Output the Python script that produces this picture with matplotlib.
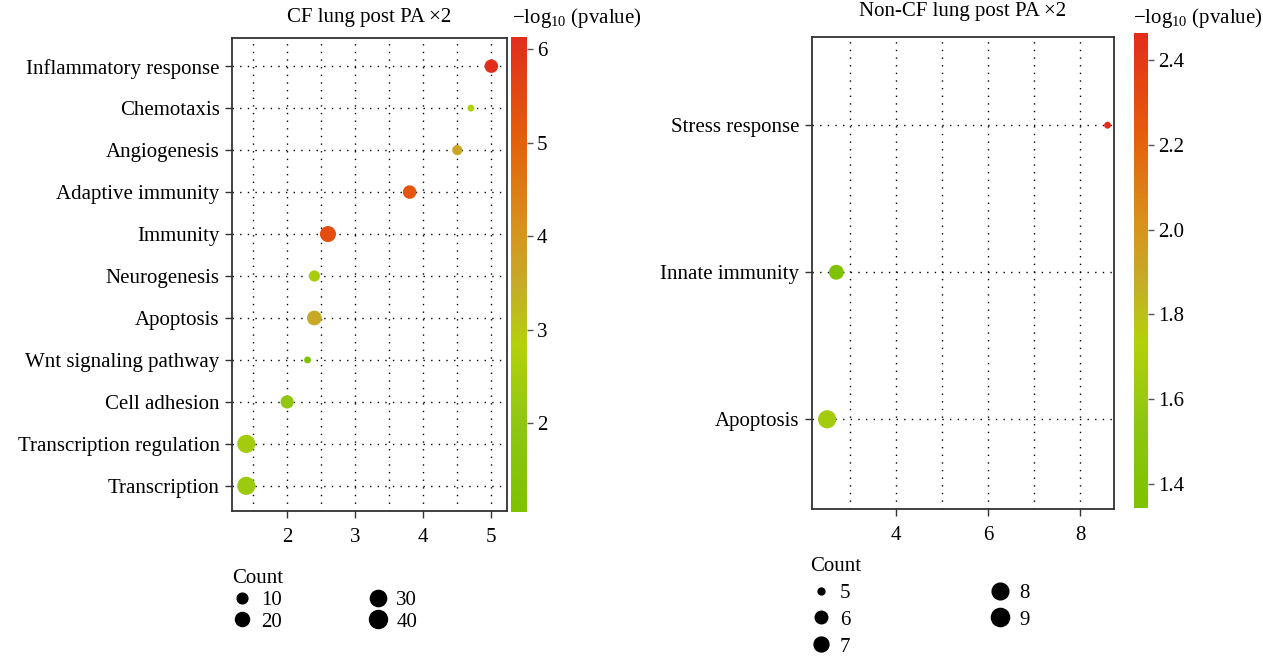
import numpy as np
import matplotlib

matplotlib.use("Agg")
import matplotlib.pyplot as plt
from matplotlib.colors import LinearSegmentedColormap
from matplotlib.lines import Line2D
from matplotlib.ticker import MultipleLocator

plt.rcParams["font.family"] = ["Liberation Serif", "DejaVu Serif"]
plt.rcParams["mathtext.fontset"] = "custom"
plt.rcParams["mathtext.rm"] = "Liberation Serif"
FS = 15

# ---- data: left panel (CF lung) ----
cf_terms = ["Inflammatory response", "Chemotaxis", "Angiogenesis", "Adaptive immunity",
            "Immunity", "Neurogenesis", "Apoptosis", "Wnt signaling pathway",
            "Cell adhesion", "Transcription regulation", "Transcription"]
cf_x = [5.0, 4.7, 4.5, 3.8, 2.6, 2.4, 2.4, 2.3, 2.0, 1.4, 1.4]
cf_logp = [6.13, 2.8, 3.6, 5.25, 5.4, 2.55, 3.55, 1.05, 2.05, 2.45, 2.3]
cf_count = [18, 6, 9, 18, 29, 11, 23, 6, 17, 41, 41]
cf_legend = [10, 20, 30, 40]

# ---- data: right panel (non-CF lung) ----
ncf_terms = ["Stress response", "Innate immunity", "Apoptosis"]
ncf_x = [8.6, 2.7, 2.5]
ncf_logp = [2.464, 1.343, 1.65]
ncf_count = [5, 7, 9]
ncf_legend = [5, 6, 7, 8, 9]

cmap = LinearSegmentedColormap.from_list("gyr", [
    (0.0, "#7EC200"), (0.18, "#8EC612"), (0.35, "#B4D10A"), (0.48, "#C6AB28"),
    (0.60, "#D8921C"), (0.78, "#E4600A"), (1.0, "#E22D1B")])


def dot_px(c, lo, hi):
    # ggplot-style area scale: diameter grows with sqrt of rescaled count
    return 6.9 + 11.3 * np.sqrt((np.asarray(c, float) - lo) / (hi - lo))


fig = plt.figure(figsize=(12.63, 6.56), dpi=100)


def panel(rect, crect, terms, xs, logp, counts, leg_vals, title, title_y, ylim,
          xmaj, xmin_, xlim, cticks, ctitle_x, leg_anchor, leg_colsp, leg_rowsp):
    ax = fig.add_axes(rect)
    n = len(terms)
    ypos = np.arange(n)[::-1]
    lo, hi = min(counts), max(counts)
    d = dot_px(counts, lo, hi)
    sc = ax.scatter(xs, ypos, s=(0.72 * d) ** 2, c=logp, cmap=cmap,
                    vmin=min(logp), vmax=max(logp), edgecolors="none", zorder=3)
    ax.set_yticks(ypos)
    ax.set_yticklabels(terms)
    ax.set_ylim(*ylim)
    ax.set_xlim(*xlim)
    ax.xaxis.set_major_locator(MultipleLocator(xmaj))
    ax.xaxis.set_minor_locator(MultipleLocator(xmin_))
    ax.grid(which="both", axis="x", color="black", lw=1, linestyle=(0, (1, 4.5)))
    ax.grid(which="major", axis="y", color="black", lw=1, linestyle=(0, (1, 4.5)))
    ax.set_axisbelow(True)
    ax.tick_params(which="major", length=5, width=1, color="#333333", pad=4,
                   labelsize=FS)
    ax.tick_params(which="minor", length=0)
    ax.tick_params(axis="x", pad=7)
    for sp in ax.spines.values():
        sp.set_color("#333333")
        sp.set_linewidth(1.3)
    fig.text(rect[0] + rect[2] / 2, title_y, title, ha="center", va="center",
             fontsize=FS)

    cax = fig.add_axes(crect)
    cb = fig.colorbar(sc, cax=cax)
    cb.outline.set_visible(False)
    cb.set_ticks(cticks)
    cax.tick_params(length=4, width=1, color="#555555", labelsize=FS, pad=3)
    fig.text(ctitle_x, 0.972, r"$\mathrm{-log_{10}}$ (pvalue)", ha="left",
             va="center", fontsize=FS)

    handles = [Line2D([], [], ls="none", marker="o", color="black",
                      markersize=0.72 * dot_px(v, lo, hi)) for v in leg_vals]
    fig.legend(handles, [str(v) for v in leg_vals], title="Count", ncol=2,
               loc="upper left", bbox_to_anchor=leg_anchor, frameon=False,
               fontsize=FS, title_fontsize=FS, alignment="left",
               handlelength=1.0, handletextpad=0.4,
               columnspacing=leg_colsp, labelspacing=leg_rowsp,
               borderpad=0, borderaxespad=0)
    return ax


panel([0.1837, 0.221, 0.2177, 0.721], [0.4046, 0.2195, 0.0127, 0.724],
      cf_terms, cf_x, cf_logp, cf_count, cf_legend, "CF lung post PA \u00d72", 0.9726,
      (-0.6, 10.67), 1, 0.5, (1.19, 5.23), [2, 3, 4, 5, 6], 0.405,
      (0.1835, 0.132), 4.1, 0.1)

panel([0.6429, 0.2241, 0.2391, 0.7195], [0.8979, 0.2256, 0.0111, 0.724],
      ncf_terms, ncf_x, ncf_logp, ncf_count, ncf_legend, "Non-CF lung post PA \u00d72",
      0.982, (-0.61, 2.6), 2, 1, (2.17, 8.74), [1.4, 1.6, 1.8, 2.0, 2.2, 2.4], 0.897,
      (0.6417, 0.151), 6.7, 0.35)

fig.savefig("out.png", dpi=100)
